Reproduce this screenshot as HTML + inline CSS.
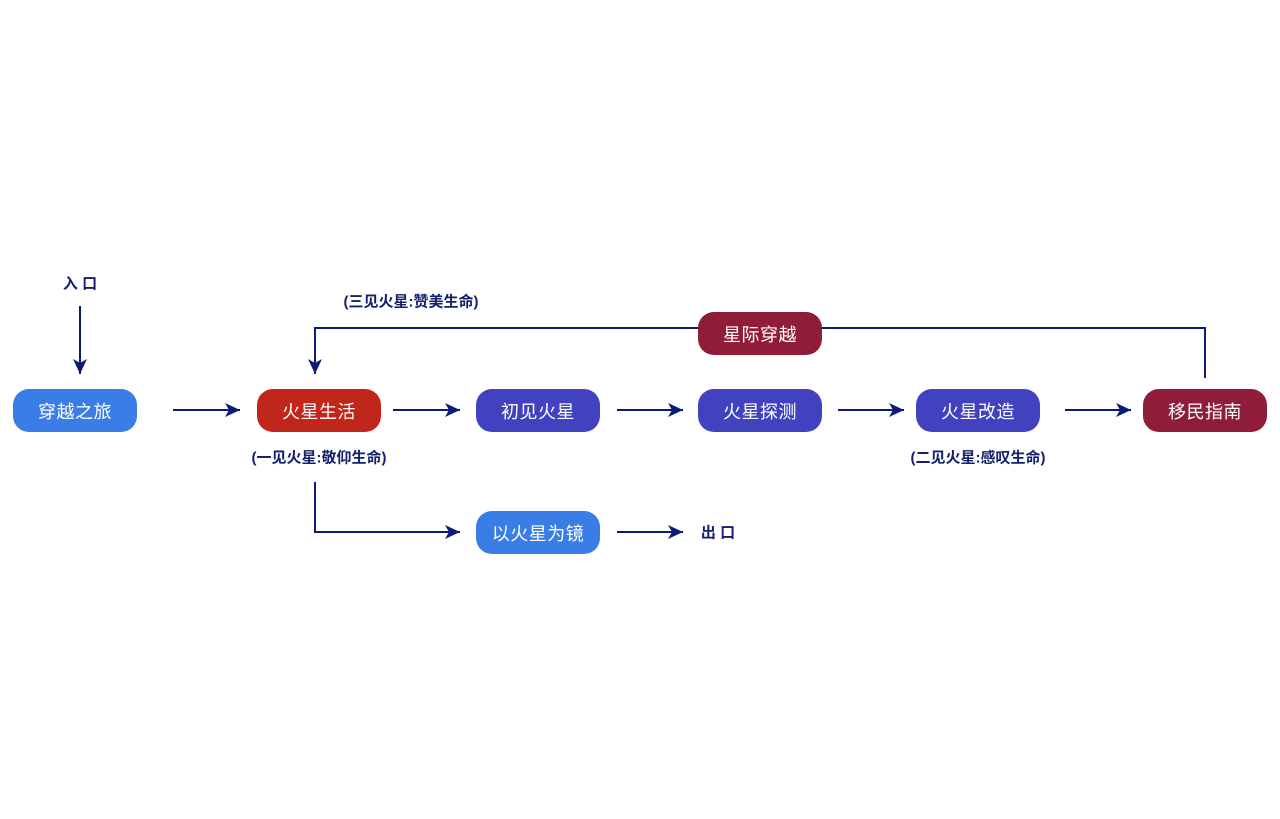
<!DOCTYPE html>
<html><head><meta charset="utf-8"><style>
body{margin:0;background:#fff;width:1280px;height:819px;overflow:hidden;position:relative;font-family:"Liberation Sans","Noto Sans CJK SC",sans-serif}
.n{position:absolute;width:124px;height:43px;border-radius:16px;color:#fff;font-size:18px;display:flex;align-items:center;justify-content:center;letter-spacing:0.5px}
.t{position:absolute;color:#14206e;font-weight:bold;font-size:15px;white-space:nowrap;transform:translate(-50%,-50%)}
svg{position:absolute;left:0;top:0}
</style></head><body>
<svg width="1280" height="819">
<defs><marker id="a" markerWidth="16" markerHeight="16" refX="15" refY="7" orient="auto" markerUnits="userSpaceOnUse"><path d="M0,0 L15,7 L0,14 L4,7 z" fill="#0c1a7a"/></marker></defs>
<g stroke="#0c1a7a" stroke-width="2" fill="none" marker-end="url(#a)">
<line x1="80" y1="306" x2="80" y2="374"/>
<line x1="173" y1="410" x2="240" y2="410"/>
<line x1="393" y1="410" x2="460" y2="410"/>
<line x1="617" y1="410" x2="683" y2="410"/>
<line x1="838" y1="410" x2="904" y2="410"/>
<line x1="1065" y1="410" x2="1131" y2="410"/>
<polyline points="1205,378 1205,328 315,328 315,374"/>
<polyline points="315,482 315,532 460,532"/>
<line x1="617" y1="532" x2="683" y2="532"/>
</g></svg>
<div class="t" style="left:80px;top:283px">入 口</div>
<div class="t" style="left:411px;top:301px">(三见火星:赞美生命)</div>
<div class="t" style="left:319px;top:457px">(一见火星:敬仰生命)</div>
<div class="t" style="left:978px;top:457px">(二见火星:感叹生命)</div>
<div class="t" style="left:718px;top:532px">出 口</div>
<div class="n" style="left:13px;top:389px;background:#3b7de6">穿越之旅</div>
<div class="n" style="left:257px;top:389px;background:#c0261a">火星生活</div>
<div class="n" style="left:476px;top:389px;background:#4242c0">初见火星</div>
<div class="n" style="left:698px;top:389px;background:#4242c0">火星探测</div>
<div class="n" style="left:916px;top:389px;background:#4242c0">火星改造</div>
<div class="n" style="left:1143px;top:389px;background:#8f1d3a">移民指南</div>
<div class="n" style="left:698px;top:312px;background:#8f1d3a">星际穿越</div>
<div class="n" style="left:476px;top:511px;background:#3b7de6">以火星为镜</div>
</body></html>
